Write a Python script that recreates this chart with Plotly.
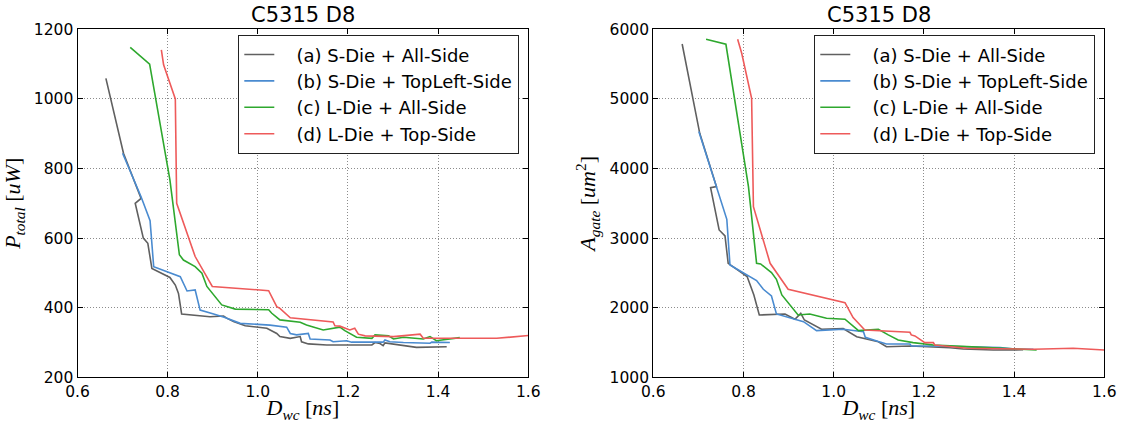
import plotly.graph_objects as go

# ---- C5315 D8: total power vs. worst-case delay ----
pwr_a_x = [0.663, 0.702, 0.741, 0.728, 0.746, 0.756, 0.765, 0.805, 0.817, 0.824, 0.831, 0.894, 0.924, 0.931,
           0.946, 0.972, 1.020, 1.042, 1.049, 1.072, 1.094, 1.097, 1.112, 1.153, 1.253, 1.260, 1.271, 1.278,
           1.282, 1.352, 1.419]
pwr_a_y = [1059, 844, 714, 700, 600, 585, 513, 487, 465, 441, 382, 374, 376, 370,
           360, 348, 341, 326, 317, 312, 317, 302, 296, 293, 293, 300, 297, 291,
           299, 286, 288]

pwr_b_x = [0.700, 0.741, 0.761, 0.769, 0.828, 0.843, 0.861, 0.872, 0.902, 0.927, 0.961, 1.027, 1.064, 1.072,
           1.086, 1.112, 1.116, 1.160, 1.167, 1.197, 1.208, 1.278, 1.282, 1.293, 1.323, 1.382, 1.386, 1.426]
pwr_b_y = [844, 719, 650, 518, 489, 448, 451, 393, 382, 372, 355, 350, 344, 326,
           322, 326, 310, 307, 302, 305, 301, 301, 307, 302, 300, 298, 301, 300]

pwr_c_x = [0.717, 0.760, 0.805, 0.826, 0.835, 0.861, 0.876, 0.887, 0.920, 0.950, 1.024, 1.031, 1.049, 1.094,
           1.108, 1.145, 1.182, 1.193, 1.219, 1.253, 1.260, 1.290, 1.301, 1.323, 1.367, 1.382, 1.396, 1.448]
pwr_c_y = [1148, 1100, 767, 552, 537, 518, 499, 461, 408, 396, 394, 384, 365, 358,
           350, 336, 344, 334, 315, 312, 322, 319, 310, 315, 310, 317, 305, 314]

pwr_d_x = [0.786, 0.791, 0.817, 0.820, 0.861, 0.899, 1.024, 1.042, 1.049, 1.072, 1.167, 1.171, 1.182, 1.204,
           1.215, 1.223, 1.238, 1.301, 1.360, 1.367, 1.530, 1.600]
pwr_d_y = [1141, 1098, 1000, 700, 547, 461, 449, 403, 398, 371, 359, 348, 347, 336,
           341, 324, 319, 317, 324, 312, 312, 320]

# ---- C5315 D8: gate area vs. worst-case delay ----
area_a_x = [0.664, 0.703, 0.740, 0.727, 0.746, 0.759, 0.766, 0.786, 0.808, 0.823, 0.835, 0.892, 0.914, 0.927,
            0.935, 0.973, 1.021, 1.051, 1.099, 1.117, 1.170, 1.258, 1.287, 1.354, 1.420]
area_a_y = [5789, 4506, 3740, 3725, 3117, 3031, 2638, 2542, 2447, 2183, 1895, 1909, 1833, 1919,
            1823, 1690, 1700, 1583, 1511, 1440, 1450, 1425, 1407, 1392, 1395]

area_b_x = [0.701, 0.763, 0.770, 0.829, 0.844, 0.862, 0.873, 0.933, 0.962, 1.021, 1.066, 1.070, 1.099, 1.117,
            1.169, 1.172, 1.221, 1.369, 1.406, 1.443]
area_b_y = [4530, 3270, 2614, 2389, 2265, 2169, 1910, 1800, 1671, 1690, 1656, 1575, 1513, 1479,
            1479, 1450, 1450, 1427, 1403, 1403]

area_c_x = [0.717, 0.761, 0.811, 0.829, 0.838, 0.862, 0.873, 0.885, 0.921, 0.947, 0.984, 1.025, 1.055, 1.099,
            1.121, 1.143, 1.176, 1.221, 1.295, 1.369, 1.450]
area_c_y = [5856, 5785, 3740, 2638, 2628, 2504, 2408, 2183, 1896, 1910, 1848, 1834, 1671, 1690,
            1609, 1537, 1498, 1465, 1441, 1417, 1393]

area_d_x = [0.787, 0.796, 0.818, 0.822, 0.859, 0.899, 1.025, 1.043, 1.069, 1.169, 1.172, 1.180, 1.202, 1.221,
            1.224, 1.295, 1.443, 1.531, 1.600]
area_d_y = [5856, 5655, 5009, 3452, 2638, 2265, 2073, 1858, 1680, 1647, 1609, 1594, 1498, 1498,
            1465, 1417, 1403, 1417, 1393]

series_names = ["(a) S-Die + All-Side", "(b) S-Die + TopLeft-Side",
                "(c) L-Die + All-Side", "(d) L-Die + Top-Side"]
series_colors = ["#606060", "#4a8bd0", "#2ea82e", "#ee5a5a"]

x_ticks = [0.6, 0.8, 1.0, 1.2, 1.4, 1.6]
pwr_ticks = [200, 400, 600, 800, 1000, 1200]
area_ticks = [1000, 2000, 3000, 4000, 5000, 6000]

W, H = 1126, 423
TICK_FONT = dict(family="DejaVu Sans", size=15.5, color="black")
MATH_FONT = dict(family="Liberation Serif", size=22, color="black")
LEGEND_FONT = dict(family="DejaVu Sans", size=18, color="black")
LEGEND_INDENT = "&nbsp;&nbsp;&nbsp;"  # wider gap between the line sample and its label

fig = go.Figure()

power_sets = [(pwr_a_x, pwr_a_y), (pwr_b_x, pwr_b_y), (pwr_c_x, pwr_c_y), (pwr_d_x, pwr_d_y)]
area_sets = [(area_a_x, area_a_y), (area_b_x, area_b_y), (area_c_x, area_c_y), (area_d_x, area_d_y)]

for i, (xs, ys) in enumerate(power_sets):
    fig.add_trace(go.Scatter(x=xs, y=ys, mode="lines", name=LEGEND_INDENT + series_names[i],
                             line=dict(color=series_colors[i], width=1.6),
                             xaxis="x", yaxis="y", legend="legend", legendgroup=f"p{i}"))
for i, (xs, ys) in enumerate(area_sets):
    fig.add_trace(go.Scatter(x=xs, y=ys, mode="lines", name=LEGEND_INDENT + series_names[i],
                             line=dict(color=series_colors[i], width=1.6),
                             xaxis="x2", yaxis="y2", legend="legend2", legendgroup=f"a{i}"))

y_dom = [1 - 377.3 / H, 1 - 29.3 / H]
left_dom = [77.5 / W, 528.3 / W]
right_dom = [653.3 / W, 1104.3 / W]

common_axis = dict(
    showline=True, linecolor="black", linewidth=1.3, mirror="allticks",
    ticks="inside", ticklen=5, tickwidth=1, tickcolor="black",
    showgrid=True, gridcolor="#8c8c8c", griddash="1px,2px", gridwidth=1,
    zeroline=False, tickfont=TICK_FONT,
)

# x titles use a fixed standoff below the tick labels; margins stay fixed
x_title = dict(text="<i>D<sub>wc</sub></i> [<i>ns</i>]", font=MATH_FONT, standoff=4)

legend_common = dict(yanchor="top", xanchor="right", bgcolor="white",
                     bordercolor="#222222", borderwidth=1.3, font=LEGEND_FONT,
                     tracegroupgap=0, itemwidth=30)

fig.update_layout(
    width=W, height=H,
    margin=dict(l=0, r=0, t=0, b=0, autoexpand=False),
    paper_bgcolor="white", plot_bgcolor="white",
    xaxis=dict(domain=left_dom, anchor="y", range=[0.6, 1.6], tickvals=x_ticks,
               tickformat=".1f", title=x_title, automargin=True, **common_axis),
    yaxis=dict(domain=y_dom, anchor="x", range=[200, 1200], tickvals=pwr_ticks,
               title=dict(text="<i>P<sub>total</sub></i> [<i>uW</i>]", font=MATH_FONT, standoff=7),
               automargin=False, **common_axis),
    xaxis2=dict(domain=right_dom, anchor="y2", range=[0.6, 1.6], tickvals=x_ticks,
                tickformat=".1f", title=x_title, automargin=True, **common_axis),
    yaxis2=dict(domain=y_dom, anchor="x2", range=[1000, 6000], tickvals=area_ticks,
                title=dict(text="<i>A<sub>gate</sub></i> [<i>um</i><sup>2</sup>]", font=MATH_FONT, standoff=7),
                automargin=False, **common_axis),
    legend=dict(x=519 / W, y=1 - 35 / H, **legend_common),
    legend2=dict(x=1095 / W, y=1 - 35 / H, **legend_common),
    annotations=[
        dict(text="C5315 D8", x=(left_dom[0] + left_dom[1]) / 2, y=y_dom[1], xref="paper", yref="paper",
             xanchor="center", yanchor="bottom", yshift=0, showarrow=False,
             font=dict(family="DejaVu Sans", size=21, color="black")),
        dict(text="C5315 D8", x=(right_dom[0] + right_dom[1]) / 2, y=y_dom[1], xref="paper", yref="paper",
             xanchor="center", yanchor="bottom", yshift=0, showarrow=False,
             font=dict(family="DejaVu Sans", size=21, color="black")),
    ],
)

fig.write_html("out.html")
